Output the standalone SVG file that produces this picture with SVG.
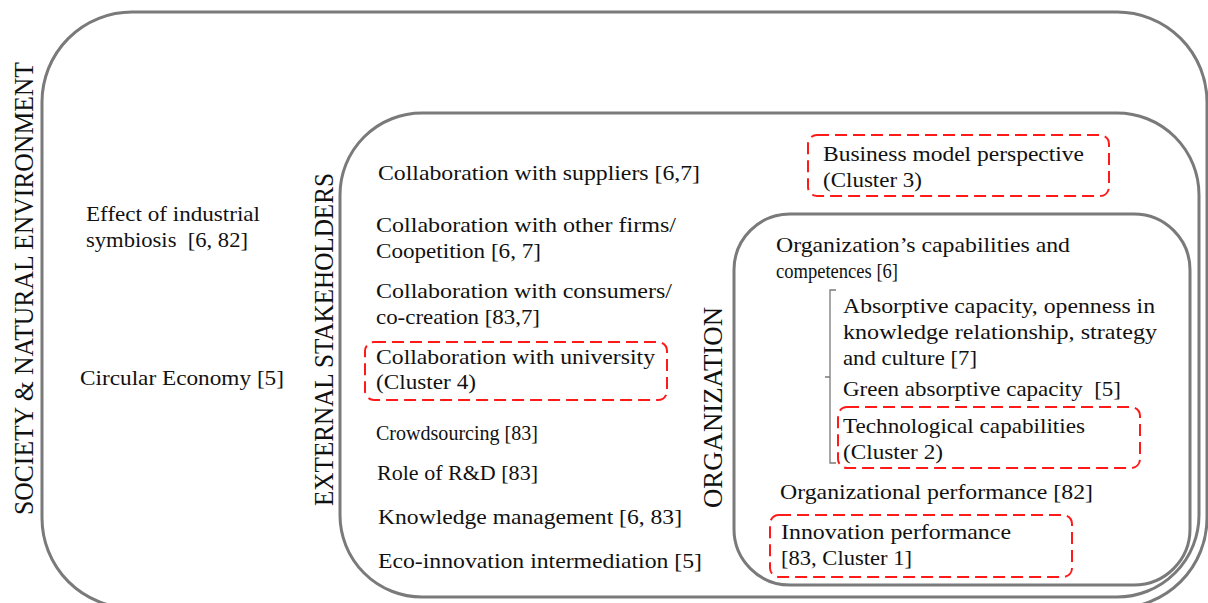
<svg xmlns="http://www.w3.org/2000/svg" width="1208" height="603" viewBox="0 0 1208 603">
  <style>
    .frame { fill: none; stroke: #7a7a7a; stroke-width: 3; }
    .cluster { fill: none; stroke: #ff1a1a; stroke-width: 2; stroke-dasharray: 12 6; }
    .brace { fill: none; stroke: #7a7a7a; stroke-width: 1.3; }
    text { font-family: "Liberation Serif", "Times New Roman", serif; font-size: 22px; fill: #111; }
    .title { font-size: 27px; }
  </style>
  <rect width="1208" height="603" fill="#ffffff"/>

  <!-- Society & natural environment (outermost level) -->
  <g id="society">
    <rect class="frame" x="42" y="12" width="1165" height="596" rx="90" ry="90"/>
    <text class="title" transform="translate(33,515) rotate(-90)" textLength="453" lengthAdjust="spacingAndGlyphs">SOCIETY &amp; NATURAL ENVIRONMENT</text>
    <text x="86" y="221" textLength="174" lengthAdjust="spacingAndGlyphs">Effect of industrial</text>
    <text x="86" y="247" textLength="162" lengthAdjust="spacingAndGlyphs" xml:space="preserve">symbiosis  [6, 82]</text>
    <text x="80" y="385" textLength="204" lengthAdjust="spacingAndGlyphs">Circular Economy [5]</text>
  </g>

  <!-- External stakeholders -->
  <g id="stakeholders">
    <rect class="frame" x="340" y="113" width="859" height="484" rx="82" ry="82"/>
    <text class="title" transform="translate(333,506) rotate(-90)" textLength="333" lengthAdjust="spacingAndGlyphs">EXTERNAL STAKEHOLDERS</text>
    <text x="378" y="180" textLength="322" lengthAdjust="spacingAndGlyphs">Collaboration with suppliers [6,7]</text>
    <text x="376" y="232" textLength="300" lengthAdjust="spacingAndGlyphs">Collaboration with other firms/</text>
    <text x="376" y="258" textLength="165" lengthAdjust="spacingAndGlyphs">Coopetition [6, 7]</text>
    <text x="376" y="298" textLength="296" lengthAdjust="spacingAndGlyphs">Collaboration with consumers/</text>
    <text x="376" y="324" textLength="164" lengthAdjust="spacingAndGlyphs">co-creation [83,7]</text>
    <text x="376" y="440" textLength="162" lengthAdjust="spacingAndGlyphs">Crowdsourcing [83]</text>
    <text x="377" y="480" textLength="161" lengthAdjust="spacingAndGlyphs">Role of R&amp;D [83]</text>
    <text x="378" y="524" textLength="304" lengthAdjust="spacingAndGlyphs">Knowledge management [6, 83]</text>
    <text x="378" y="568" textLength="324" lengthAdjust="spacingAndGlyphs">Eco-innovation intermediation [5]</text>
  </g>

  <g id="cluster-4">
    <rect class="cluster" x="365" y="342" width="302" height="58" rx="9" ry="9"/>
    <text x="376" y="364" textLength="279" lengthAdjust="spacingAndGlyphs">Collaboration with university</text>
    <text x="376" y="389" textLength="100" lengthAdjust="spacingAndGlyphs">(Cluster 4)</text>
  </g>

  <g id="cluster-3">
    <rect class="cluster" x="808" y="135" width="301" height="61" rx="9" ry="9"/>
    <text x="823" y="161" textLength="261" lengthAdjust="spacingAndGlyphs">Business model perspective</text>
    <text x="823" y="187" textLength="99" lengthAdjust="spacingAndGlyphs">(Cluster 3)</text>
  </g>

  <!-- Organization (innermost level) -->
  <g id="organization">
    <rect class="frame" x="734" y="214" width="456" height="371" rx="56" ry="56"/>
    <text class="title" transform="translate(722,508) rotate(-90)" textLength="201" lengthAdjust="spacingAndGlyphs">ORGANIZATION</text>
    <text x="776" y="252" textLength="294" lengthAdjust="spacingAndGlyphs">Organization’s capabilities and</text>
    <text x="776" y="278" textLength="122" lengthAdjust="spacingAndGlyphs">competences [6]</text>
    <path class="brace" d="M836 290 H830 V463 H836 M830 377 H825"/>
    <text x="843" y="313" textLength="312" lengthAdjust="spacingAndGlyphs">Absorptive capacity, openness in</text>
    <text x="843" y="339" textLength="314" lengthAdjust="spacingAndGlyphs">knowledge relationship, strategy</text>
    <text x="843" y="365" textLength="134" lengthAdjust="spacingAndGlyphs">and culture [7]</text>
    <text x="843" y="396" textLength="278" lengthAdjust="spacingAndGlyphs" xml:space="preserve">Green absorptive capacity  [5]</text>
    <text x="780" y="499" textLength="313" lengthAdjust="spacingAndGlyphs">Organizational performance [82]</text>
  </g>

  <g id="cluster-2">
    <rect class="cluster" x="838" y="407" width="302" height="61" rx="9" ry="9"/>
    <text x="843" y="433" textLength="242" lengthAdjust="spacingAndGlyphs">Technological capabilities</text>
    <text x="843" y="459" textLength="100" lengthAdjust="spacingAndGlyphs">(Cluster 2)</text>
  </g>

  <g id="cluster-1">
    <rect class="cluster" x="770" y="515" width="302" height="62" rx="9" ry="9"/>
    <text x="781" y="539" textLength="230" lengthAdjust="spacingAndGlyphs">Innovation performance</text>
    <text x="781" y="565" textLength="131" lengthAdjust="spacingAndGlyphs">[83, Cluster 1]</text>
  </g>

  <g id="connectors"></g>
</svg>
